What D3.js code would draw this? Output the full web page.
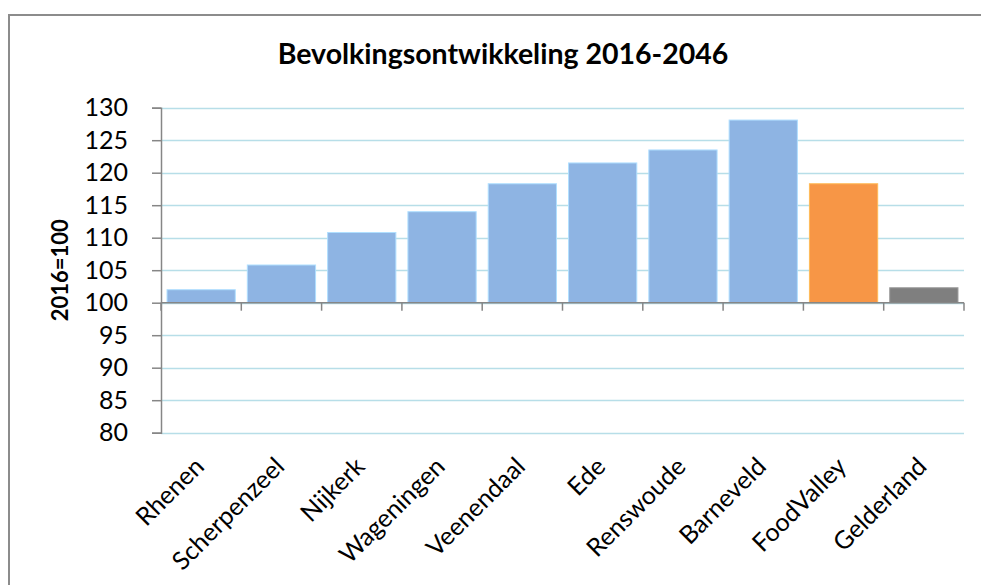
<!DOCTYPE html>
<html>
<head>
<meta charset="utf-8">
<script src="https://cdn.jsdelivr.net/npm/d3@7"></script>
<style>
  body { margin: 0; background: #fff; }
  text { font-family: Lato, "Open Sans", sans-serif; fill: #000; }
</style>
</head>
<body>
<div id="chart"></div>
<script>
var width  = 981,
    height = 585;

// data
var regions = ['Rhenen', 'Scherpenzeel', 'Nijkerk', 'Wageningen', 'Veenendaal',
               'Ede', 'Renswoude', 'Barneveld', 'FoodValley', 'Gelderland'];
var index2046 = [102.0, 105.8, 110.8, 114.0, 118.3, 121.5, 123.5, 128.1, 118.3, 102.3];
var barColors = ['#8eb4e3', '#8eb4e3', '#8eb4e3', '#8eb4e3', '#8eb4e3',
                 '#8eb4e3', '#8eb4e3', '#8eb4e3', '#f79646', '#7f7f7f'];
var yTicks = [80, 85, 90, 95, 100, 105, 110, 115, 120, 125, 130];
var baseline = 100;

var plot = { left: 161, right: 964, top: 107.7, bottom: 432.7 };

var svg = d3.select('#chart').append('svg')
    .attr('width', width)
    .attr('height', height);

// chart frame (only top + left edge visible in crop)
svg.append('path')
    .attr('d', 'M9,' + height + 'V15H' + width)
    .attr('fill', 'none')
    .attr('stroke', '#8c8c8c')
    .attr('stroke-width', 2);

var x = d3.scaleBand()
    .domain(regions)
    .range([plot.left, plot.right])
    .paddingInner(0.15)
    .paddingOuter(0.075);

var y = d3.scaleLinear()
    .domain([80, 130])
    .range([plot.bottom, plot.top]);

// gridlines
svg.append('g')
    .selectAll('line')
    .data(yTicks)
    .enter()
    .append('line')
    .attr('x1', plot.left)
    .attr('x2', plot.right)
    .attr('y1', function(d) { return Math.round(y(d)) + 0.5; })
    .attr('y2', function(d) { return Math.round(y(d)) + 0.5; })
    .attr('stroke', '#b7dee8')
    .attr('stroke-width', 1.5);

// bars grow up/down from 100
svg.append('g')
    .selectAll('rect')
    .data(index2046)
    .enter()
    .append('rect')
    .attr('x', function(d, i) { return x(regions[i]); })
    .attr('width', x.bandwidth())
    .attr('y', function(d) { return y(Math.max(d, baseline)); })
    .attr('height', function(d) { return Math.abs(y(d) - y(baseline)); })
    .attr('fill', function(d, i) { return barColors[i]; })
    .attr('stroke', function(d, i) { return d3.color(barColors[i]).brighter(0.6); })
    .attr('stroke-width', 1);

// y axis
var yAxis = svg.append('g')
    .attr('transform', 'translate(' + plot.left + ',0)')
    .call(d3.axisLeft(y).tickValues(yTicks).tickSize(9).tickPadding(24));
yAxis.select('.domain').attr('stroke', '#868686').attr('stroke-width', 1.5);
yAxis.selectAll('.tick line').attr('stroke', '#868686').attr('stroke-width', 1.5);
yAxis.selectAll('.tick text')
    .style('font-size', '25px')
    .attr('fill', '#000');

// x axis crossing at 100
var xAxis = svg.append('g')
    .attr('transform', 'translate(0,' + y(baseline) + ')');
xAxis.append('line')
    .attr('x1', plot.left).attr('x2', plot.right)
    .attr('stroke', '#868686').attr('stroke-width', 1.5);
xAxis.selectAll('.xtick')
    .data(regions.concat(['end']))
    .enter()
    .append('line')
    .attr('x1', function(d, i) { return plot.left + i * x.step(); })
    .attr('x2', function(d, i) { return plot.left + i * x.step(); })
    .attr('y1', 0).attr('y2', 8)
    .attr('stroke', '#868686').attr('stroke-width', 1.5);

// category labels at the bottom, rotated
svg.append('g')
    .selectAll('text')
    .data(regions)
    .enter()
    .append('text')
    .attr('transform', function(d) {
        return 'translate(' + (x(d) + x.bandwidth() / 2 - 8) + ',' + (plot.bottom + 23) + ') rotate(-45)';
    })
    .attr('text-anchor', 'end')
    .attr('dy', '0.7em')
    .style('font-size', '25px')
    .text(function(d) { return d; });

// titles
svg.append('text')
    .attr('x', 503)
    .attr('y', 64)
    .attr('text-anchor', 'middle')
    .style('font-size', '28.5px')
    .style('font-weight', 'bold')
    .text('Bevolkingsontwikkeling 2016-2046');

svg.append('text')
    .attr('transform', 'translate(68,' + (plot.top + plot.bottom) / 2 + ') rotate(-90)')
    .attr('text-anchor', 'middle')
    .style('font-size', '22px')
    .style('font-weight', 'bold')
    .text('2016=100');
</script>
</body>
</html>
